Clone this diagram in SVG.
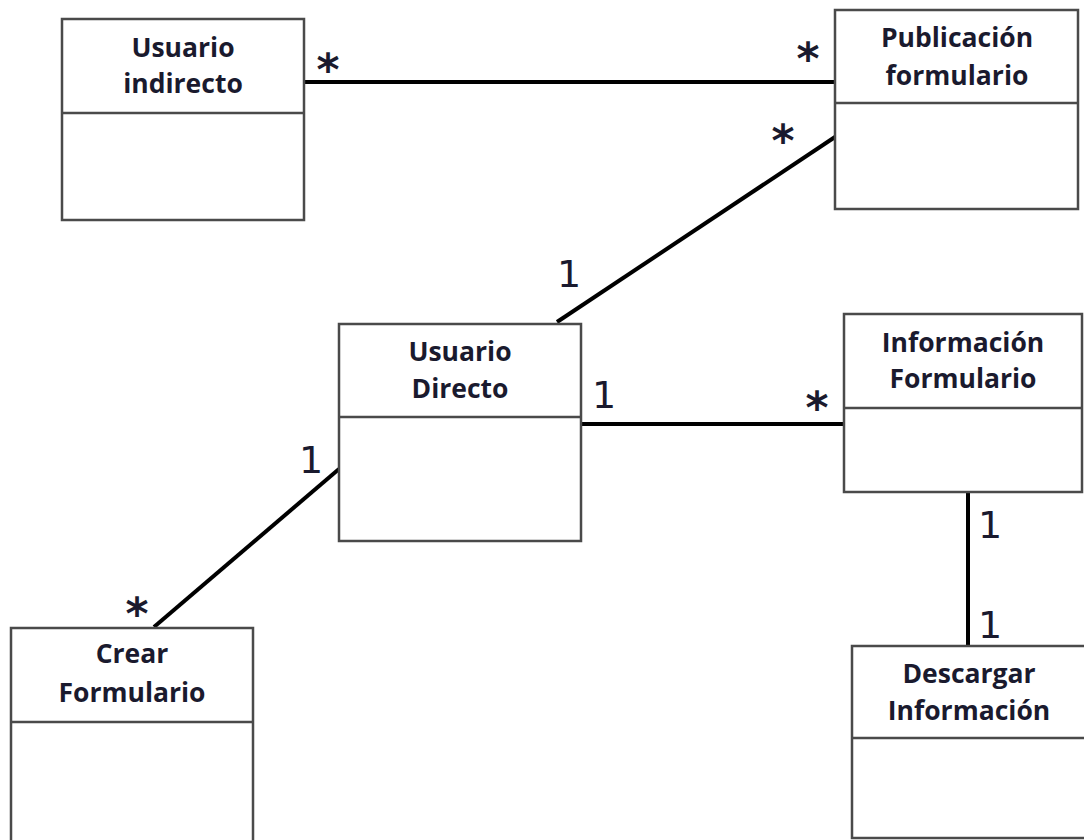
<svg xmlns="http://www.w3.org/2000/svg" width="1084" height="840" viewBox="0 0 1084 840">
  <style>
    .box { fill: #ffffff; stroke: #4a4a4a; stroke-width: 2.5; }
    .div { stroke: #4a4a4a; stroke-width: 2.5; }
    .title { font-family: "Open Sans", "Liberation Sans", sans-serif; font-weight: 700; font-size: 26.5px; fill: #1a1a2e; text-anchor: middle; }
    .mult { font-family: "DejaVu Sans", "Liberation Sans", sans-serif; font-size: 38px; fill: #1a1a2e; text-anchor: middle; }
    .star { font-family: "DejaVu Sans", "Liberation Sans", sans-serif; font-weight: 700; font-size: 44px; fill: #1a1a2e; text-anchor: middle; }
    .link { stroke: #000000; stroke-width: 4; fill: none; }
  </style>
  <rect width="1084" height="840" fill="#ffffff"/>

  <!-- associations -->
  <g id="connectors">
    <line class="link" x1="305" y1="82" x2="835" y2="82"/>
    <line class="link" x1="835" y1="137" x2="557" y2="322"/>
    <line class="link" x1="581" y1="424" x2="844" y2="424"/>
    <line class="link" x1="339" y1="469" x2="154" y2="627"/>
    <line class="link" x1="968" y1="488" x2="968" y2="646"/>
  </g>

  <g id="usuario-indirecto">
    <rect class="box" x="62" y="19" width="242" height="201"/>
    <line class="div" x1="62" y1="113" x2="304" y2="113"/>
    <text class="title" x="183" y="57">Usuario</text>
    <text class="title" x="183" y="93">indirecto</text>
  </g>

  <g id="publicacion-formulario">
    <rect class="box" x="835" y="10" width="243" height="199"/>
    <line class="div" x1="835" y1="103" x2="1078" y2="103"/>
    <text class="title" x="957" y="47">Publicación</text>
    <text class="title" x="957" y="85">formulario</text>
  </g>

  <g id="usuario-directo">
    <rect class="box" x="339" y="324" width="242" height="217"/>
    <line class="div" x1="339" y1="417" x2="581" y2="417"/>
    <text class="title" x="460" y="361">Usuario</text>
    <text class="title" x="460" y="398">Directo</text>
  </g>

  <g id="informacion-formulario">
    <rect class="box" x="844" y="314" width="238" height="178"/>
    <line class="div" x1="844" y1="408" x2="1082" y2="408"/>
    <text class="title" x="963" y="352">Información</text>
    <text class="title" x="963" y="388">Formulario</text>
  </g>

  <g id="crear-formulario">
    <rect class="box" x="11" y="628" width="242" height="222"/>
    <line class="div" x1="11" y1="722" x2="253" y2="722"/>
    <text class="title" x="132" y="663">Crear</text>
    <text class="title" x="132" y="702">Formulario</text>
  </g>

  <g id="descargar-informacion">
    <rect class="box" x="852" y="646" width="236" height="192"/>
    <line class="div" x1="852" y1="738" x2="1088" y2="738"/>
    <text class="title" x="969" y="683">Descargar</text>
    <text class="title" x="969" y="720">Información</text>
  </g>

  <!-- multiplicities -->
  <g id="multiplicities">
    <text class="star" x="328" y="85">*</text>
    <text class="star" x="808" y="74">*</text>
    <text class="star" x="783" y="156">*</text>
    <text class="star" x="817" y="423">*</text>
    <text class="star" x="137" y="629">*</text>
    <text class="mult" x="569" y="287">1</text>
    <text class="mult" x="604" y="408">1</text>
    <text class="mult" x="311" y="473">1</text>
    <text class="mult" x="990" y="538">1</text>
    <text class="mult" x="990" y="638">1</text>
  </g>
</svg>
